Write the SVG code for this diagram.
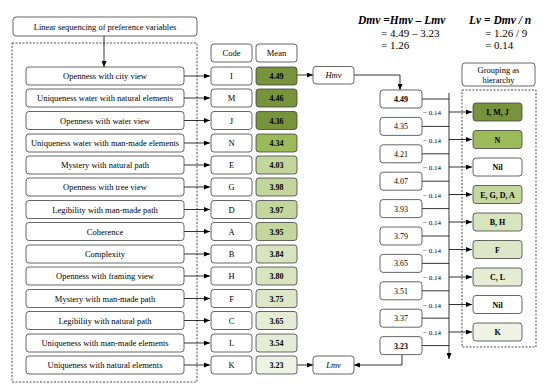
<svg xmlns="http://www.w3.org/2000/svg" width="550" height="391" viewBox="0 0 550 391">
<defs>
<marker id="ah" markerUnits="userSpaceOnUse" markerWidth="6" markerHeight="5" refX="6" refY="2.5" orient="auto"><path d="M0,0 L6,2.5 L0,5 z" fill="#000"/></marker>
<style>
.b{fill:#fff;stroke:#404040;stroke-width:0.8}
.t{font-family:"Liberation Serif","Times New Roman",serif;font-size:8.5px;fill:#000;text-anchor:middle}
.n{font-family:"Liberation Serif","Times New Roman",serif;font-size:8px;font-weight:bold;fill:#000;text-anchor:middle}
.v{font-family:"Liberation Serif","Times New Roman",serif;font-size:8px;fill:#000;text-anchor:middle}
.s{font-family:"Liberation Serif","Times New Roman",serif;font-size:7px;fill:#000;text-anchor:middle}
.f{font-family:"Liberation Serif","Times New Roman",serif;font-size:11px;fill:#000}
.fb{font-family:"Liberation Serif","Times New Roman",serif;font-size:11.5px;font-weight:bold;font-style:italic;fill:#000}
.i{font-family:"Liberation Serif","Times New Roman",serif;font-size:8.5px;font-style:italic;fill:#000;text-anchor:middle}
.l{stroke:#000;stroke-width:0.8;fill:none}
.d{stroke:#000;stroke-width:0.7;fill:none;stroke-dasharray:2,1.5}
.c1{fill:#77933C}.c2{fill:#9BBB59}.c3{fill:#C3D69B}.c4{fill:#D7E4BD}.c5{fill:#DDE7C8}.c6{fill:#E4ECD3}.c7{fill:#EEF3E3}
</style>
</defs>

<g id="formula">
<text class="fb" x="358" y="24">Dmv =Hmv – Lmv</text>
<text class="f" x="381" y="37">= 4.49 – 3.23</text>
<text class="f" x="381" y="49">= 1.26</text>
<text class="fb" x="469" y="24">Lv = Dmv / n</text>
<text class="f" x="485" y="37">= 1.26 / 9</text>
<text class="f" x="485" y="49">= 0.14</text>
</g>

<g id="dashed-frames">
<rect class="d" x="12" y="43" width="185" height="339"/>
<rect class="d" x="462" y="90" width="74" height="257"/>
</g>

<g id="title"><rect class="b" x="13" y="17" width="184" height="19" rx="3"/><text class="t" x="105" y="29.5">Linear sequencing of preference variables</text></g>
<g id="code-header"><rect class="b" x="211" y="44" width="41" height="18" rx="3"/><text class="t" x="231.5" y="56">Code</text></g>
<g id="mean-header"><rect class="b" x="256" y="44" width="41" height="18" rx="3"/><text class="t" x="276.5" y="56">Mean</text></g>
<g id="group-header"><rect class="b" x="462" y="63" width="73" height="23" rx="3"/><text class="t" x="498.5" y="73">Grouping as</text><text class="t" x="498.5" y="82.5">hierarchy</text></g>

<g id="connectors">
<line class="l" x1="104" y1="36" x2="104" y2="67" marker-end="url(#ah)"/>
<line class="l" x1="184" y1="76" x2="210" y2="76" marker-end="url(#ah)"/>
<line class="l" x1="184" y1="98" x2="210" y2="98" marker-end="url(#ah)"/>
<line class="l" x1="184" y1="120.5" x2="210" y2="120.5" marker-end="url(#ah)"/>
<line class="l" x1="184" y1="143" x2="210" y2="143" marker-end="url(#ah)"/>
<line class="l" x1="184" y1="165" x2="210" y2="165" marker-end="url(#ah)"/>
<line class="l" x1="184" y1="187" x2="210" y2="187" marker-end="url(#ah)"/>
<line class="l" x1="184" y1="209.5" x2="210" y2="209.5" marker-end="url(#ah)"/>
<line class="l" x1="184" y1="231.5" x2="210" y2="231.5" marker-end="url(#ah)"/>
<line class="l" x1="184" y1="254" x2="210" y2="254" marker-end="url(#ah)"/>
<line class="l" x1="184" y1="276" x2="210" y2="276" marker-end="url(#ah)"/>
<line class="l" x1="184" y1="298.5" x2="210" y2="298.5" marker-end="url(#ah)"/>
<line class="l" x1="184" y1="320.5" x2="210" y2="320.5" marker-end="url(#ah)"/>
<line class="l" x1="184" y1="343" x2="210" y2="343" marker-end="url(#ah)"/>
<line class="l" x1="184" y1="365" x2="210" y2="365" marker-end="url(#ah)"/>
<line class="l" x1="297" y1="75" x2="313" y2="75" marker-end="url(#ah)"/>
<polyline class="l" points="354,75 400,75 400,90" marker-end="url(#ah)"/>
<line class="l" x1="297" y1="365" x2="313" y2="365" marker-end="url(#ah)"/>
<polyline class="l" points="402,354.6 402,365 354,365" marker-end="url(#ah)"/>
<line class="l" x1="449" y1="93" x2="449" y2="359" marker-end="url(#ah)"/>
<line class="l" x1="422" y1="99" x2="449" y2="99"/>
<line class="l" x1="422" y1="126.4" x2="449" y2="126.4"/>
<line class="l" x1="422" y1="153.8" x2="449" y2="153.8"/>
<line class="l" x1="422" y1="181.2" x2="449" y2="181.2"/>
<line class="l" x1="422" y1="208.6" x2="449" y2="208.6"/>
<line class="l" x1="422" y1="236" x2="449" y2="236"/>
<line class="l" x1="422" y1="263.4" x2="449" y2="263.4"/>
<line class="l" x1="422" y1="290.8" x2="449" y2="290.8"/>
<line class="l" x1="422" y1="318.2" x2="449" y2="318.2"/>
<line class="l" x1="422" y1="345.6" x2="449" y2="345.6"/>
<line class="l" x1="449" y1="112" x2="472" y2="112" marker-end="url(#ah)"/>
<line class="l" x1="449" y1="139.5" x2="472" y2="139.5" marker-end="url(#ah)"/>
<line class="l" x1="449" y1="167" x2="472" y2="167" marker-end="url(#ah)"/>
<line class="l" x1="449" y1="194.5" x2="472" y2="194.5" marker-end="url(#ah)"/>
<line class="l" x1="449" y1="222" x2="472" y2="222" marker-end="url(#ah)"/>
<line class="l" x1="449" y1="249.5" x2="472" y2="249.5" marker-end="url(#ah)"/>
<line class="l" x1="449" y1="277" x2="472" y2="277" marker-end="url(#ah)"/>
<line class="l" x1="449" y1="304.5" x2="472" y2="304.5" marker-end="url(#ah)"/>
<line class="l" x1="449" y1="332" x2="472" y2="332" marker-end="url(#ah)"/>
<text class="s" x="432" y="115">− 0.14</text>
<text class="s" x="432" y="142.5">− 0.14</text>
<text class="s" x="432" y="170">− 0.14</text>
<text class="s" x="432" y="197.5">− 0.14</text>
<text class="s" x="432" y="225">− 0.14</text>
<text class="s" x="432" y="252.5">− 0.14</text>
<text class="s" x="432" y="280">− 0.14</text>
<text class="s" x="432" y="307.5">− 0.14</text>
<text class="s" x="432" y="335">− 0.14</text>
</g>

<g id="var-I"><rect class="b" x="26" y="67" width="158" height="18" rx="3"/><text class="t" x="105" y="79">Openness with city view</text></g>
<g id="var-M"><rect class="b" x="26" y="89" width="158" height="18" rx="3"/><text class="t" x="105" y="101">Uniqueness water with natural elements</text></g>
<g id="var-J"><rect class="b" x="26" y="111.5" width="158" height="18" rx="3"/><text class="t" x="105" y="123.5">Openness with water view</text></g>
<g id="var-N"><rect class="b" x="26" y="134" width="158" height="18" rx="3"/><text class="t" x="105" y="146">Uniqueness water with man-made elements</text></g>
<g id="var-E"><rect class="b" x="26" y="156" width="158" height="18" rx="3"/><text class="t" x="105" y="168">Mystery with natural path</text></g>
<g id="var-G"><rect class="b" x="26" y="178" width="158" height="18" rx="3"/><text class="t" x="105" y="190">Openness with tree view</text></g>
<g id="var-D"><rect class="b" x="26" y="200.5" width="158" height="18" rx="3"/><text class="t" x="105" y="212.5">Legibility with man-made path</text></g>
<g id="var-A"><rect class="b" x="26" y="222.5" width="158" height="18" rx="3"/><text class="t" x="105" y="234.5">Coherence</text></g>
<g id="var-B"><rect class="b" x="26" y="245" width="158" height="18" rx="3"/><text class="t" x="105" y="257">Complexity</text></g>
<g id="var-H"><rect class="b" x="26" y="267" width="158" height="18" rx="3"/><text class="t" x="105" y="279">Openness with framing view</text></g>
<g id="var-F"><rect class="b" x="26" y="289.5" width="158" height="18" rx="3"/><text class="t" x="105" y="301.5">Mystery with man-made path</text></g>
<g id="var-C"><rect class="b" x="26" y="311.5" width="158" height="18" rx="3"/><text class="t" x="105" y="323.5">Legibility with natural path</text></g>
<g id="var-L"><rect class="b" x="26" y="334" width="158" height="18" rx="3"/><text class="t" x="105" y="346">Uniqueness with man-made elements</text></g>
<g id="var-K"><rect class="b" x="26" y="356" width="158" height="18" rx="3"/><text class="t" x="105" y="368">Uniqueness with natural elements</text></g>

<g id="code-I"><rect class="b" x="211" y="67" width="41" height="18" rx="3"/><text class="t" x="231.5" y="79">I</text></g>
<g id="code-M"><rect class="b" x="211" y="89" width="41" height="18" rx="3"/><text class="t" x="231.5" y="101">M</text></g>
<g id="code-J"><rect class="b" x="211" y="111.5" width="41" height="18" rx="3"/><text class="t" x="231.5" y="123.5">J</text></g>
<g id="code-N"><rect class="b" x="211" y="134" width="41" height="18" rx="3"/><text class="t" x="231.5" y="146">N</text></g>
<g id="code-E"><rect class="b" x="211" y="156" width="41" height="18" rx="3"/><text class="t" x="231.5" y="168">E</text></g>
<g id="code-G"><rect class="b" x="211" y="178" width="41" height="18" rx="3"/><text class="t" x="231.5" y="190">G</text></g>
<g id="code-D"><rect class="b" x="211" y="200.5" width="41" height="18" rx="3"/><text class="t" x="231.5" y="212.5">D</text></g>
<g id="code-A"><rect class="b" x="211" y="222.5" width="41" height="18" rx="3"/><text class="t" x="231.5" y="234.5">A</text></g>
<g id="code-B"><rect class="b" x="211" y="245" width="41" height="18" rx="3"/><text class="t" x="231.5" y="257">B</text></g>
<g id="code-H"><rect class="b" x="211" y="267" width="41" height="18" rx="3"/><text class="t" x="231.5" y="279">H</text></g>
<g id="code-F"><rect class="b" x="211" y="289.5" width="41" height="18" rx="3"/><text class="t" x="231.5" y="301.5">F</text></g>
<g id="code-C"><rect class="b" x="211" y="311.5" width="41" height="18" rx="3"/><text class="t" x="231.5" y="323.5">C</text></g>
<g id="code-L"><rect class="b" x="211" y="334" width="41" height="18" rx="3"/><text class="t" x="231.5" y="346">L</text></g>
<g id="code-K"><rect class="b" x="211" y="356" width="41" height="18" rx="3"/><text class="t" x="231.5" y="368">K</text></g>

<g id="mean-I"><rect class="b c1" x="256" y="67" width="41" height="18" rx="3"/><text class="n" x="276.5" y="79">4.49</text></g>
<g id="mean-M"><rect class="b c1" x="256" y="89" width="41" height="18" rx="3"/><text class="n" x="276.5" y="101">4.46</text></g>
<g id="mean-J"><rect class="b c1" x="256" y="111.5" width="41" height="18" rx="3"/><text class="n" x="276.5" y="123.5">4.36</text></g>
<g id="mean-N"><rect class="b c2" x="256" y="134" width="41" height="18" rx="3"/><text class="n" x="276.5" y="146">4.34</text></g>
<g id="mean-E"><rect class="b c3" x="256" y="156" width="41" height="18" rx="3"/><text class="n" x="276.5" y="168">4.03</text></g>
<g id="mean-G"><rect class="b c3" x="256" y="178" width="41" height="18" rx="3"/><text class="n" x="276.5" y="190">3.98</text></g>
<g id="mean-D"><rect class="b c3" x="256" y="200.5" width="41" height="18" rx="3"/><text class="n" x="276.5" y="212.5">3.97</text></g>
<g id="mean-A"><rect class="b c3" x="256" y="222.5" width="41" height="18" rx="3"/><text class="n" x="276.5" y="234.5">3.95</text></g>
<g id="mean-B"><rect class="b c4" x="256" y="245" width="41" height="18" rx="3"/><text class="n" x="276.5" y="257">3.84</text></g>
<g id="mean-H"><rect class="b c4" x="256" y="267" width="41" height="18" rx="3"/><text class="n" x="276.5" y="279">3.80</text></g>
<g id="mean-F"><rect class="b c5" x="256" y="289.5" width="41" height="18" rx="3"/><text class="n" x="276.5" y="301.5">3.75</text></g>
<g id="mean-C"><rect class="b c6" x="256" y="311.5" width="41" height="18" rx="3"/><text class="n" x="276.5" y="323.5">3.65</text></g>
<g id="mean-L"><rect class="b c6" x="256" y="334" width="41" height="18" rx="3"/><text class="n" x="276.5" y="346">3.54</text></g>
<g id="mean-K"><rect class="b c7" x="256" y="356" width="41" height="18" rx="3"/><text class="n" x="276.5" y="368">3.23</text></g>

<g id="hmv"><rect class="b" x="313" y="66.5" width="41" height="17.5" rx="3"/><text class="i" x="333.5" y="78">Hmv</text></g>
<g id="lmv"><rect class="b" x="313" y="356" width="41" height="18" rx="3"/><text class="i" x="333.5" y="368">Lmv</text></g>

<g id="val-449"><rect class="b" x="380" y="90" width="42" height="18" rx="3"/><text class="n" x="401" y="102">4.49</text></g>
<g id="val-435"><rect class="b" x="380" y="117.4" width="42" height="18" rx="3"/><text class="v" x="401" y="129.4">4.35</text></g>
<g id="val-421"><rect class="b" x="380" y="144.8" width="42" height="18" rx="3"/><text class="v" x="401" y="156.8">4.21</text></g>
<g id="val-407"><rect class="b" x="380" y="172.2" width="42" height="18" rx="3"/><text class="v" x="401" y="184.2">4.07</text></g>
<g id="val-393"><rect class="b" x="380" y="199.6" width="42" height="18" rx="3"/><text class="v" x="401" y="211.6">3.93</text></g>
<g id="val-379"><rect class="b" x="380" y="227" width="42" height="18" rx="3"/><text class="v" x="401" y="239">3.79</text></g>
<g id="val-365"><rect class="b" x="380" y="254.4" width="42" height="18" rx="3"/><text class="v" x="401" y="266.4">3.65</text></g>
<g id="val-351"><rect class="b" x="380" y="281.8" width="42" height="18" rx="3"/><text class="v" x="401" y="293.8">3.51</text></g>
<g id="val-337"><rect class="b" x="380" y="309.2" width="42" height="18" rx="3"/><text class="v" x="401" y="321.2">3.37</text></g>
<g id="val-323"><rect class="b" x="380" y="336.6" width="42" height="18" rx="3"/><text class="n" x="401" y="348.6">3.23</text></g>

<g id="grp-IMJ"><rect class="b c1" x="473" y="103" width="49" height="18" rx="3"/><text class="n" x="497.5" y="115">I, M, J</text></g>
<g id="grp-N"><rect class="b c2" x="473" y="130.5" width="49" height="18" rx="3"/><text class="n" x="497.5" y="142.5">N</text></g>
<g id="grp-Nil1"><rect class="b" x="473" y="158" width="49" height="18" rx="3"/><text class="n" x="497.5" y="170">Nil</text></g>
<g id="grp-EGDA"><rect class="b c3" x="473" y="185.5" width="49" height="18" rx="3"/><text class="n" x="497.5" y="197.5">E, G, D, A</text></g>
<g id="grp-BH"><rect class="b c4" x="473" y="213" width="49" height="18" rx="3"/><text class="n" x="497.5" y="225">B, H</text></g>
<g id="grp-F"><rect class="b c5" x="473" y="240.5" width="49" height="18" rx="3"/><text class="n" x="497.5" y="252.5">F</text></g>
<g id="grp-CL"><rect class="b c6" x="473" y="268" width="49" height="18" rx="3"/><text class="n" x="497.5" y="280">C, L</text></g>
<g id="grp-Nil2"><rect class="b" x="473" y="295.5" width="49" height="18" rx="3"/><text class="n" x="497.5" y="307.5">Nil</text></g>
<g id="grp-K"><rect class="b c7" x="473" y="323" width="49" height="18" rx="3"/><text class="n" x="497.5" y="335">K</text></g>
</svg>
